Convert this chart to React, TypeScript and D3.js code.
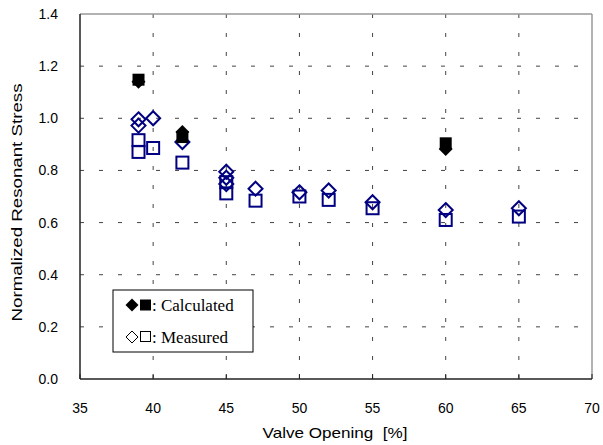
import React from "react";
import * as d3 from "d3";

const xTicks = [35, 40, 45, 50, 55, 60, 65, 70];
const yTicks = [0, 0.2, 0.4, 0.6, 0.8, 1.0, 1.2, 1.4];

const calcDiamondX = [39, 42, 60];
const calcDiamondY = [1.14, 0.947, 0.882];
const calcSquareX = [39, 42, 60];
const calcSquareY = [1.148, 0.928, 0.904];

const measDiamondX = [39, 39, 40, 42, 45, 45, 45, 47, 50, 52, 55, 60, 65];
const measDiamondY = [0.996, 0.972, 1.0, 0.909, 0.795, 0.772, 0.748, 0.73, 0.716, 0.723, 0.678, 0.648, 0.655];
const measSquareX = [39, 39, 40, 42, 45, 45, 47, 50, 52, 55, 60, 65];
const measSquareY = [0.916, 0.871, 0.886, 0.83, 0.755, 0.712, 0.684, 0.7, 0.687, 0.655, 0.61, 0.623];

const W = 603;
const H = 445;
const left = 80;
const right = 592;
const top = 14;
const bottom = 379;

export default function App() {
  const x = d3.scaleLinear().domain([35, 70]).range([left, right]);
  const y = d3.scaleLinear().domain([0, 1.4]).range([bottom, top]);
  const navy = "#000080";
  const sans = "'Liberation Sans', Arial, sans-serif";
  const serif = "'Liberation Serif', 'Times New Roman', serif";

  const diamond = (cx: number, cy: number, r: number) =>
    `M${cx},${cy - r}L${cx + r},${cy}L${cx},${cy + r}L${cx - r},${cy}Z`;

  return (
    <svg width={W} height={H} style={{ position: "absolute", left: 0, top: 0, background: "#fff" }}>
      <rect x={0} y={0} width={W} height={H} fill="#fff" />
      {/* grid */}
      {xTicks.slice(1, -1).map((t) => (
        <line key={"gx" + t} x1={x(t)} x2={x(t)} y1={top} y2={bottom} stroke="#444" strokeWidth={1} strokeDasharray="4,15" />
      ))}
      {yTicks.slice(1, -1).map((t) => (
        <line key={"gy" + t} x1={left} x2={right} y1={y(t)} y2={y(t)} stroke="#444" strokeWidth={1} strokeDasharray="4,15" />
      ))}
      {/* frame */}
      <line x1={left} x2={right} y1={top} y2={top} stroke="#999" strokeWidth={1.5} />
      <line x1={right} x2={right} y1={top} y2={bottom} stroke="#999" strokeWidth={1.5} />
      <line x1={left} x2={left} y1={top} y2={bottom} stroke="#222" strokeWidth={1.5} />
      <line x1={left} x2={right} y1={bottom} y2={bottom} stroke="#222" strokeWidth={1.5} />
      {xTicks.map((t) => (
        <line key={"tx" + t} x1={x(t)} x2={x(t)} y1={bottom} y2={bottom - 5} stroke="#222" strokeWidth={1} />
      ))}
      {/* tick labels */}
      {xTicks.map((t) => (
        <text key={"lx" + t} x={x(t)} y={413} textAnchor="middle" fontFamily={sans} fontSize={14} fill="#000">
          {t}
        </text>
      ))}
      {yTicks.map((t) => (
        <text key={"ly" + t} x={58} y={y(t) + 5} textAnchor="end" fontFamily={sans} fontSize={14} fill="#000">
          {t.toFixed(1)}
        </text>
      ))}
      {/* axis titles */}
      <text
        x={0}
        y={0}
        transform={`translate(22,${(top + bottom) / 2 + 6}) rotate(-90)`}
        textAnchor="middle"
        fontFamily={sans}
        fontSize={15}
        textLength={238}
        lengthAdjust="spacingAndGlyphs"
        fill="#000"
      >
        Normalized Resonant Stress
      </text>
      <text x={335} y={438} textAnchor="middle" fontFamily={sans} fontSize={15} textLength={145} lengthAdjust="spacingAndGlyphs" fill="#000">
        {"Valve Opening\u00a0\u00a0[%]"}
      </text>
      {/* measured */}
      {measSquareX.map((v, i) => (
        <rect key={"ms" + i} x={x(v) - 6} y={y(measSquareY[i]) - 6} width={12} height={12} fill="none" stroke={navy} strokeWidth={2} />
      ))}
      {measDiamondX.map((v, i) => (
        <path key={"md" + i} d={diamond(x(v), y(measDiamondY[i]), 7)} fill="none" stroke={navy} strokeWidth={2} />
      ))}
      {/* calculated */}
      {calcSquareX.map((v, i) => (
        <rect key={"cs" + i} x={x(v) - 6} y={y(calcSquareY[i]) - 6} width={12} height={12} fill="#000" />
      ))}
      {calcDiamondX.map((v, i) => (
        <path key={"cd" + i} d={diamond(x(v), y(calcDiamondY[i]), 7)} fill="#000" />
      ))}
      {/* legend */}
      <rect x={113} y={290} width={140} height={62} fill="#fff" stroke="#000" strokeWidth={1} />
      <path d={diamond(132, 305, 6.5)} fill="#000" />
      <rect x={140} y={299.5} width={11} height={11} fill="#000" />
      <text x={152} y={311} fontFamily={serif} fontSize={17} fill="#000">: Calculated</text>
      <path d={diamond(132, 337, 6)} fill="#fff" stroke="#000" strokeWidth={1} />
      <rect x={140.5} y={331.5} width={10} height={10} fill="#fff" stroke="#000" strokeWidth={1} />
      <text x={152} y={343} fontFamily={serif} fontSize={17} fill="#000">: Measured</text>
    </svg>
  );
}
